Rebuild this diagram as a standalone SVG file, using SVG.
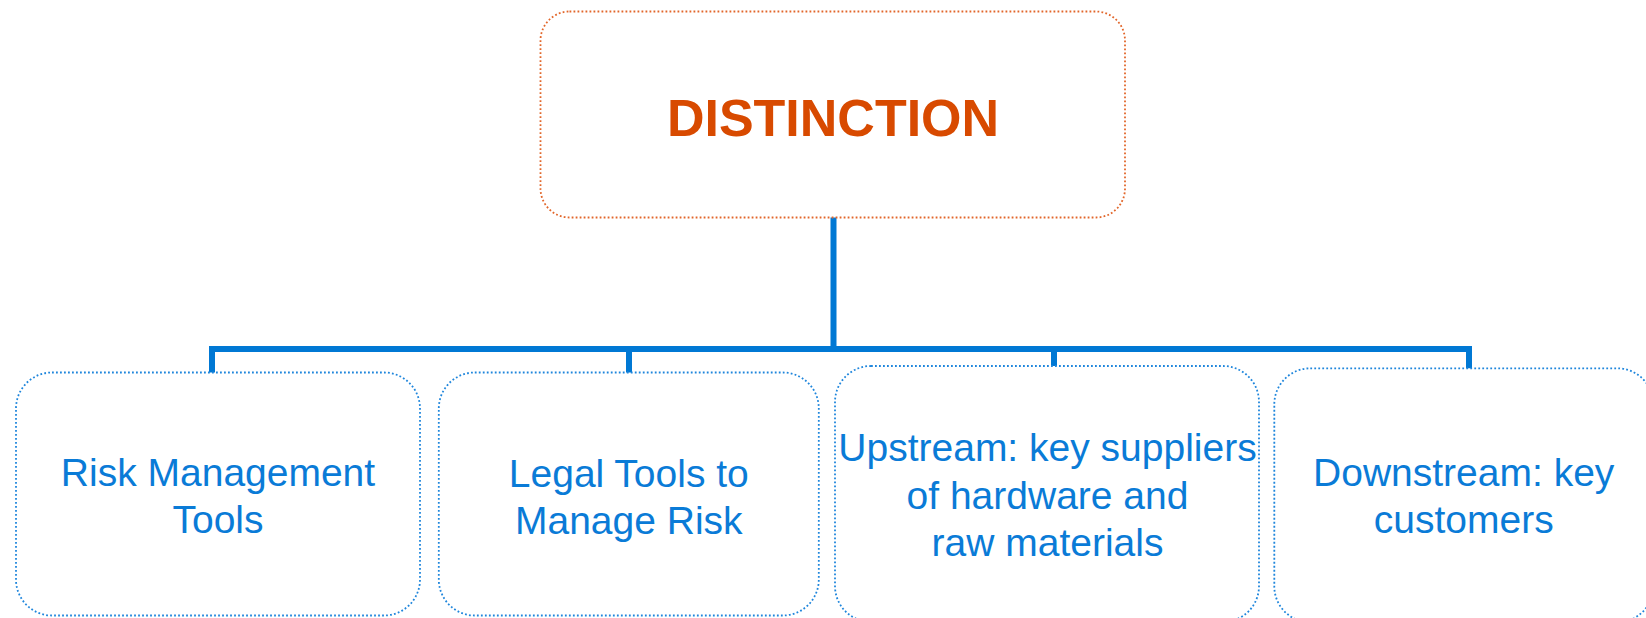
<svg xmlns="http://www.w3.org/2000/svg" width="1646" height="618" viewBox="0 0 1646 618">
<style>
.root{fill:#fff;stroke:#E2662A;stroke-width:1.8;stroke-dasharray:1.8 2.2}
.leaf{fill:#fff;stroke:#1F86DC;stroke-width:1.8;stroke-dasharray:1.8 2.2}
.t1{font-family:"Liberation Sans",Arial,sans-serif;font-weight:bold;font-size:52px;fill:#D84A00;text-anchor:middle}
.t2{font-family:"Liberation Sans",Arial,sans-serif;font-size:39px;fill:#0A7BD7;text-anchor:middle}
.conn{fill:none;stroke:#0078D4;stroke-width:6}
</style>
<rect width="1646" height="618" fill="#fff"/>
<g id="connectors">
<path class="conn" d="M833.5 217V349"/>
<path class="conn" d="M209 349H1472"/>
<path class="conn" d="M212 346V373"/>
<path class="conn" d="M629 346V373"/>
<path class="conn" d="M1054 346V369"/>
<path class="conn" d="M1469 346V372"/>
</g>
<g id="n0">
<rect class="root" x="540.5" y="11.5" width="584.5" height="206" rx="29"/>
<text class="t1" x="833" y="135.5">DISTINCTION</text>
</g>
<g id="n1">
<rect class="leaf" x="16" y="372.5" width="404" height="243" rx="36"/>
<text class="t2" x="218" y="486">Risk Management</text>
<text class="t2" x="218" y="533">Tools</text>
</g>
<g id="n2">
<rect class="leaf" x="438.8" y="372.5" width="380" height="243" rx="36"/>
<text class="t2" x="628.8" y="487">Legal Tools to</text>
<text class="t2" x="628.8" y="534">Manage Risk</text>
</g>
<g id="n3">
<rect class="leaf" x="835" y="366" width="424" height="256" rx="36"/>
<text class="t2" x="1047.5" y="461">Upstream: key suppliers</text>
<text class="t2" x="1047.5" y="508.5">of hardware and</text>
<text class="t2" x="1047.5" y="556">raw materials</text>
</g>
<g id="n4">
<rect class="leaf" x="1274.3" y="368.3" width="379" height="254" rx="36"/>
<text class="t2" x="1463.7" y="486">Downstream: key</text>
<text class="t2" x="1463.7" y="533">customers</text>
</g>
</svg>
